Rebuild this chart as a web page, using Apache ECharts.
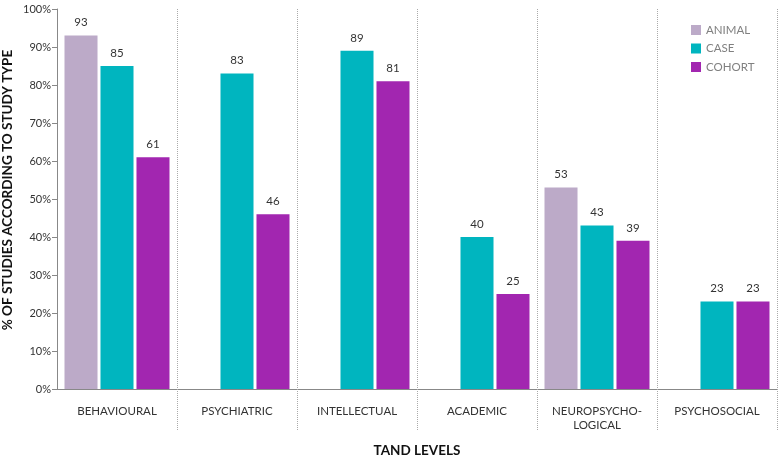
<!DOCTYPE html>
<html>
<head>
<meta charset="utf-8">
<script src="https://cdn.jsdelivr.net/npm/echarts@6/dist/echarts.min.js"></script>
<style>html,body{margin:0;padding:0;background:#fff}#c{width:780px;height:456px}</style>
</head>
<body>
<div id="c"></div>
<script>
var categories = ['BEHAVIOURAL', 'PSYCHIATRIC', 'INTELLECTUAL', 'ACADEMIC', 'NEUROPSYCHO-\nLOGICAL', 'PSYCHOSOCIAL'];
var animal = [93, null, null, null, 53, null];
var caseStudies = [85, 83, 89, 40, 43, 23];
var cohort = [61, 46, 81, 25, 39, 23];
var seriesNames = ['ANIMAL', 'CASE', 'COHORT'];
var colors = ['#bcaac8', '#00b5bf', '#a226b0'];

var chart = echarts.init(document.getElementById('c'), null, {renderer: 'canvas'});
var font = 'Lato';
function mk(name, data, color) {
  return {
    name: name, type: 'bar', data: data,
    itemStyle: {color: color},
    barGap: '9%', barCategoryGap: '12.5%',
    label: {show: true, position: 'top', distance: 7, color: '#333', fontSize: 11.5, fontFamily: font}
  };
}
chart.setOption({
  animation: false,
  textStyle: {fontFamily: font},
  grid: {left: 57, right: 3, top: 9, bottom: 67, containLabel: false, outerBoundsMode: 'none'},
  legend: {
    orient: 'vertical', left: 686, top: 19, itemWidth: 10, itemHeight: 10, itemGap: 6.5,
    icon: 'rect',
    textStyle: {color: '#808080', fontSize: 11.5, fontFamily: font},
    data: seriesNames
  },
  xAxis: {
    type: 'category', data: categories, boundaryGap: true,
    name: 'TAND LEVELS', nameLocation: 'middle', nameGap: 55, nameMoveOverlap: false,
    nameTextStyle: {fontSize: 13.5, fontWeight: 'bold', color: '#111', fontFamily: font},
    axisLine: {lineStyle: {color: '#888', width: 1}},
    axisTick: {show: true, interval: function (idx) { return idx !== 0; }, length: 41, lineStyle: {color: '#aaa', type: 'dotted'}},
    splitLine: {show: true, interval: 0, lineStyle: {color: '#aaa', type: 'dotted'}},
    axisLabel: {interval: 0, color: '#333', fontSize: 11.5, margin: 15, lineHeight: 14, fontFamily: font}
  },
  yAxis: {
    type: 'value', min: 0, max: 100, interval: 10,
    name: '% OF STUDIES ACCORDING TO STUDY TYPE', nameLocation: 'middle', nameGap: 42, nameRotate: 90, nameMoveOverlap: false,
    nameTextStyle: {fontSize: 13.5, fontWeight: 'bold', color: '#111', fontFamily: font, padding: [0, 0, 0, 18]},
    axisLine: {show: true, lineStyle: {color: '#888'}},
    axisTick: {show: true, length: 5, lineStyle: {color: '#888'}},
    splitLine: {show: false},
    axisLabel: {formatter: '{value}%', color: '#333', fontSize: 11, margin: 6, fontFamily: font}
  },
  series: [mk(seriesNames[0], animal, colors[0]), mk(seriesNames[1], caseStudies, colors[1]), mk(seriesNames[2], cohort, colors[2])]
});
</script>
</body>
</html>
